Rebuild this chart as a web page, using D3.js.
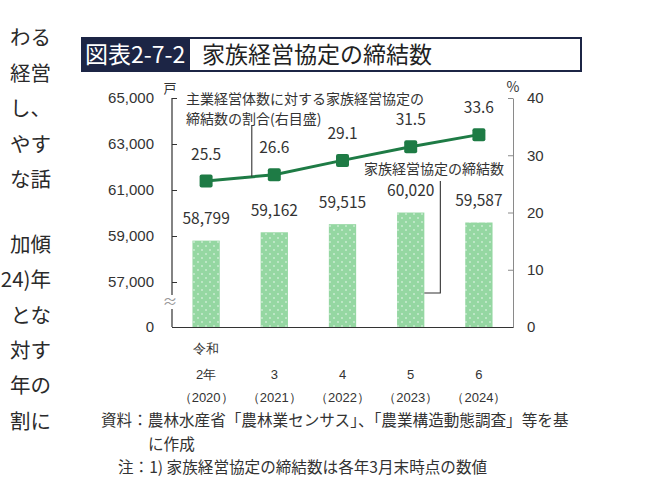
<!DOCTYPE html>
<html lang="ja">
<head>
<meta charset="utf-8">
<script src="https://cdn.jsdelivr.net/npm/d3@7"></script>
<style>
  html, body { margin: 0; padding: 0; background: #fff; }
  svg { display: block; font-family: "Noto Sans CJK JP", "Noto Sans", sans-serif; }
  .tick text { fill: #333; }
</style>
</head>
<body>
<svg id="chart" width="660" height="481"></svg>
<script>
// 年次
const years = ['2020', '2021', '2022', '2023', '2024'];
const eraLabels = ['令和', '', '', '', ''];
const yearLabels = ['2年', '3', '4', '5', '6'];
const westernLabels = ['（2020）', '（2021）', '（2022）', '（2023）', '（2024）'];

// 家族経営協定の締結数（戸）
const agreements = [58799, 59162, 59515, 60020, 59587];
// 主業経営体数に対する割合（%）
const shareOfMainFarms = [25.5, 26.6, 29.1, 31.5, 33.6];

const leftTicks = [0, 57000, 59000, 61000, 63000, 65000];
const rightTicks = [0, 10, 20, 30, 40];

// 左側の本文（見えている部分のみ）
const bodyLinesTop = ['わる', '経営', 'し、', 'やす', 'な話'];
const bodyLinesBottom = ['加傾', '24)年', 'とな', '対す', '年の', '割に'];

const svg = d3.select('#chart');
const textColor = '#333';
const navy = '#1c2545';
const green = '#1e7b45';

const plot = { left: 172, right: 513, top: 98, bottom: 327 };

// x: 帯スケール
const x = d3
  .scaleBand()
  .domain(years)
  .range([plot.left, plot.right])
  .paddingInner(0.6)
  .paddingOuter(0.3);

// 左軸（途中省略あり）
const yL = d3
  .scaleLinear()
  .domain([0, 57000, 65000])
  .range([plot.bottom, 282, plot.top]);

// 右軸
const yR = d3.scaleLinear().domain([0, 40]).range([plot.bottom, plot.top]);

// 本文の断片
const body = svg.append('g').attr('font-size', 20.5).attr('fill', '#2a2a2a').attr('text-anchor', 'end');
bodyLinesTop.forEach((t, i) => {
  body.append('text').attr('x', 51).attr('y', 45 + i * 35.5).text(t);
});
bodyLinesBottom.forEach((t, i) => {
  body.append('text').attr('x', 51).attr('y', 252 + i * 35.3).text(t);
});

// タイトル
const title = svg.append('g');
title
  .append('rect')
  .attr('x', 82)
  .attr('y', 38)
  .attr('width', 499)
  .attr('height', 33)
  .attr('fill', '#fff')
  .attr('stroke', navy)
  .attr('stroke-width', 2);
title
  .append('rect')
  .attr('x', 81)
  .attr('y', 37)
  .attr('width', 109)
  .attr('height', 35)
  .attr('fill', navy);
title
  .append('text')
  .attr('x', 85)
  .attr('y', 63)
  .attr('font-size', 23)
  .attr('fill', '#fff')
  .text('図表2-7-2');
title
  .append('text')
  .attr('x', 202)
  .attr('y', 63)
  .attr('font-size', 23)
  .attr('fill', '#222')
  .text('家族経営協定の締結数');

// 模様
const defs = svg.append('defs');
const pattern = defs
  .append('pattern')
  .attr('id', 'dots')
  .attr('patternUnits', 'userSpaceOnUse')
  .attr('width', 8)
  .attr('height', 8);
pattern.append('rect').attr('width', 8).attr('height', 8).attr('fill', '#95d7a2');
pattern.append('circle').attr('cx', 2).attr('cy', 2).attr('r', 0.8).attr('fill', '#fff').attr('opacity', 0.85);
pattern.append('circle').attr('cx', 6).attr('cy', 6).attr('r', 0.8).attr('fill', '#fff').attr('opacity', 0.85);

// 棒
svg
  .append('g')
  .selectAll('rect')
  .data(agreements)
  .join('rect')
  .attr('x', (d, i) => x(years[i]))
  .attr('y', (d) => yL(d))
  .attr('width', x.bandwidth())
  .attr('height', (d) => yL(0) - yL(d))
  .attr('fill', 'url(#dots)');

// 棒の値
svg
  .append('g')
  .attr('font-size', 15.5)
  .attr('fill', textColor)
  .attr('text-anchor', 'middle')
  .selectAll('text')
  .data(agreements)
  .join('text')
  .attr('x', (d, i) => x(years[i]) + x.bandwidth() / 2)
  .attr('y', (d) => yL(d) - 16.5)
  .text((d) => d3.format(',')(d));

// 左軸
const leftAxis = svg
  .append('g')
  .attr('transform', `translate(${plot.left},0)`)
  .call(
    d3
      .axisLeft(yL)
      .tickValues(leftTicks)
      .tickSizeInner(-5)
      .tickSizeOuter(0)
      .tickPadding(18)
      .tickFormat(d3.format(','))
  );
leftAxis.select('.domain').remove();
leftAxis.selectAll('.tick line').attr('stroke', textColor);
leftAxis.selectAll('.tick text').attr('font-size', 15).attr('font-family', null);

// 省略線付きの軸線
const breakTop = yL(57000) + 13;
const breakBottom = yL(0) - 18;
svg
  .append('path')
  .attr('d', `M${plot.left},${yL(65000)}V${breakTop}M${plot.left},${breakBottom}V${yL(0)}`)
  .attr('stroke', textColor)
  .attr('stroke-width', 1.2)
  .attr('fill', 'none');
svg
  .append('text')
  .attr('x', plot.left - 2)
  .attr('y', (breakTop + breakBottom) / 2 + 5)
  .attr('text-anchor', 'middle')
  .attr('font-size', 15)
  .attr('fill', '#999')
  .text('≈');

// 右軸
const rightAxis = svg
  .append('g')
  .attr('transform', `translate(${plot.right},0)`)
  .call(d3.axisRight(yR).tickValues(rightTicks).tickSizeInner(-5).tickSizeOuter(0).tickPadding(14));
rightAxis.select('.domain').attr('stroke', '#8a8a8a');
rightAxis.selectAll('.tick line').attr('stroke', '#8a8a8a');
rightAxis.selectAll('.tick text').attr('font-size', 15).attr('font-family', null);

// 下軸
const bottomAxis = svg
  .append('g')
  .attr('transform', `translate(0,${plot.bottom})`)
  .call(d3.axisBottom(x).tickSize(0).tickSizeOuter(0).tickPadding(0));
bottomAxis.select('.domain').attr('stroke', textColor).attr('stroke-width', 1.2);
bottomAxis
  .selectAll('.tick text')
  .text(null)
  .attr('font-size', 13)
  .attr('font-family', null)
  .attr('dy', null)
  .each(function (d, i) {
    const t = d3.select(this);
    t.append('tspan').attr('x', 0).attr('y', 25.5).text(eraLabels[i]);
    t.append('tspan').attr('x', 0).attr('y', 51.5).text(yearLabels[i]);
    t.append('tspan').attr('x', 0).attr('y', 74.5).text(westernLabels[i]);
  });

// 単位
svg.append('text').attr('x', 170).attr('y', 93).attr('text-anchor', 'middle').attr('font-size', 13).attr('fill', textColor).text('戸');
svg.append('text').attr('x', 513).attr('y', 92).attr('text-anchor', 'middle').attr('font-size', 14).attr('fill', textColor).text('%');

// 折れ線
const cx = (i) => x(years[i]) + x.bandwidth() / 2;
const line = d3
  .line()
  .x((d, i) => cx(i))
  .y((d) => yR(d));

svg
  .append('path')
  .datum(shareOfMainFarms)
  .attr('d', line)
  .attr('fill', 'none')
  .attr('stroke', green)
  .attr('stroke-width', 3);

svg
  .append('g')
  .selectAll('rect')
  .data(shareOfMainFarms)
  .join('rect')
  .attr('x', (d, i) => cx(i) - 6.5)
  .attr('y', (d) => yR(d) - 6.5)
  .attr('width', 13)
  .attr('height', 13)
  .attr('rx', 2)
  .attr('fill', green);

svg
  .append('g')
  .attr('font-size', 15.5)
  .attr('fill', textColor)
  .attr('text-anchor', 'middle')
  .selectAll('text')
  .data(shareOfMainFarms)
  .join('text')
  .attr('x', (d, i) => cx(i))
  .attr('y', (d) => yR(d) - 21.5)
  .text((d) => d.toFixed(1));

// 注記：割合
const note = svg.append('g').attr('font-size', 14).attr('fill', textColor);
note.append('text').attr('x', 186).attr('y', 104).text('主業経営体数に対する家族経営協定の');
note.append('text').attr('x', 186).attr('y', 123.5).text('締結数の割合(右目盛)');

const leaderX = cx(0) + 0.67 * x.step();
const t0 = (leaderX - cx(0)) / x.step();
const leaderY = yR(shareOfMainFarms[0] + t0 * (shareOfMainFarms[1] - shareOfMainFarms[0]));
svg
  .append('line')
  .attr('x1', leaderX)
  .attr('x2', leaderX)
  .attr('y1', 125)
  .attr('y2', leaderY)
  .attr('stroke', textColor)
  .attr('stroke-width', 1.1);

// 注記：締結数
note.append('text').attr('x', 364).attr('y', 174).text('家族経営協定の締結数');
const barRight = x(years[3]) + x.bandwidth();
svg
  .append('path')
  .attr('d', `M${barRight + 16},181V293H${barRight}`)
  .attr('fill', 'none')
  .attr('stroke', textColor)
  .attr('stroke-width', 1.1);

// 資料・注
const foot = svg.append('g').attr('font-size', 15.6).attr('fill', textColor);
foot.append('text').attr('x', 101).attr('y', 426).text('資料：農林水産省「農林業センサス」、「農業構造動態調査」等を基');
foot.append('text').attr('x', 148).attr('y', 450).text('に作成');
foot.append('text').attr('x', 118).attr('y', 473).text('注：1) 家族経営協定の締結数は各年3月末時点の数値');
</script>
</body>
</html>
